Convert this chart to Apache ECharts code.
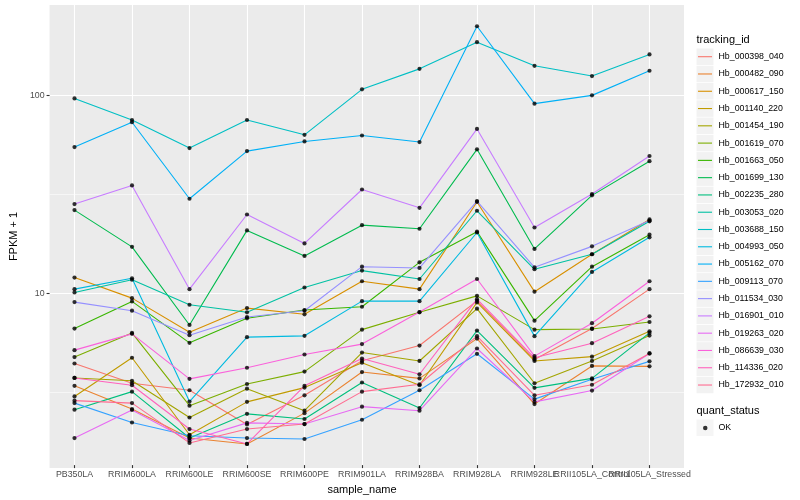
<!DOCTYPE html>
<html><head><meta charset="utf-8">
<script src="https://cdn.jsdelivr.net/npm/echarts@6/dist/echarts.min.js"></script>
<style>html,body{margin:0;padding:0;background:#fff}#c{width:800px;height:500px}</style>
</head><body><div id="c"></div>
<script>
const categories = ['PB350LA','RRIM600LA','RRIM600LE','RRIM600SE','RRIM600PE','RRIM901LA','RRIM928BA','RRIM928LA','RRIM928LE','RRII105LA_Control','RRII105LA_Stressed'];
const trackingIds = ['Hb_000398_040','Hb_000482_090','Hb_000617_150','Hb_001140_220','Hb_001454_190','Hb_001619_070','Hb_001663_050','Hb_001699_130','Hb_002235_280','Hb_003053_020','Hb_003688_150','Hb_004993_050','Hb_005162_070','Hb_009113_070','Hb_011534_030','Hb_016901_010','Hb_019263_020','Hb_086639_030','Hb_114336_020','Hb_172932_010'];
const colors = ['#F8766D','#EA8331','#D89000','#C09B00','#A3A500','#7CAE00','#39B600','#00BB4E','#00BF7D','#00C1A3','#00BFC4','#00BAE0','#00B0F6','#35A2FF','#9590FF','#C77CFF','#E76BF3','#FA62DB','#FF62BC','#FF6C91'];

const s01 = [4.31, 3.42, 3.15, 2.11, 2.97, 4.45, 5.32, 8.98, 4.52, 6.49, 10.3];
const s02 = [3.32, 2.53, 1.80, 1.68, 2.41, 3.90, 3.62, 5.77, 2.68, 4.19, 4.17];
const s03 = [11.8, 9.27, 6.22, 8.25, 7.67, 11.3, 10.3, 28.6, 10.0, 15.5, 23.3];
const s04 = [2.93, 4.61, 1.87, 2.75, 3.25, 4.35, 3.34, 8.82, 4.44, 4.67, 6.29];
const s05 = [3.64, 3.52, 2.29, 3.21, 2.48, 4.90, 4.44, 8.19, 3.42, 4.44, 5.98];
const s06 = [4.65, 6.17, 2.63, 3.39, 3.92, 6.41, 7.85, 9.52, 6.41, 6.46, 7.01];
const s07 = [6.49, 8.92, 5.49, 7.32, 8.06, 8.38, 14.1, 20.2, 7.12, 13.4, 19.5];
const s08 = [26.0, 16.9, 6.77, 20.5, 15.2, 21.8, 20.9, 53.0, 16.5, 30.9, 46.1];
const s09 = [2.51, 3.10, 1.80, 2.39, 2.25, 3.45, 2.56, 6.34, 3.24, 3.62, 6.17];
const s10 = [9.91, 11.5, 8.58, 7.85, 10.5, 12.8, 11.6, 25.8, 13.0, 15.5, 22.8];
const s11 = [96.2, 74.7, 53.8, 74.7, 62.8, 107, 136, 186, 141, 125, 161];
const s12 = [10.3, 11.7, 2.76, 5.87, 5.96, 8.95, 8.95, 20.0, 5.94, 12.6, 18.9];
const s13 = [54.4, 72.8, 29.7, 51.9, 58.1, 62.3, 57.7, 224, 90.5, 99.7, 133];
const s14 = [2.71, 2.16, 1.85, 1.80, 1.78, 2.23, 3.15, 4.83, 2.84, 3.58, 4.42];
const s15 = [8.85, 8.00, 6.00, 7.43, 8.00, 13.4, 13.2, 28.9, 13.3, 17.0, 23.0];
const s16 = [27.9, 34.7, 10.3, 24.7, 17.6, 33.1, 26.7, 67.3, 21.2, 31.4, 49.0];
const s17 = [1.80, 2.50, 1.75, 2.15, 2.12, 2.60, 2.48, 5.14, 2.75, 3.14, 4.85];
const s18 = [5.04, 6.10, 3.60, 4.10, 4.79, 5.41, 7.88, 11.6, 4.70, 6.91, 11.3];
const s19 = [3.64, 3.34, 2.00, 1.68, 3.32, 4.57, 3.80, 9.16, 4.61, 5.47, 7.49];
const s20 = [2.79, 2.71, 1.70, 2.00, 2.12, 3.10, 3.38, 5.94, 2.97, 3.36, 4.85];
const seriesValues = [s01,s02,s03,s04,s05,s06,s07,s08,s09,s10,s11,s12,s13,s14,s15,s16,s17,s18,s19,s20];

const yTickLabels = [10, 100];
const minorBreaks = [3.162, 31.62];
const quantStatus = 'OK';

const FONT = '"Liberation Sans", Arial, sans-serif';
const Y_MIN = 1.311, Y_MAX = 287.4;

const chart = echarts.init(document.getElementById('c'));

const lineSeries = trackingIds.map((id, i) => ({
  name: id, type: 'line', xAxisIndex: 1, yAxisIndex: 1,
  data: seriesValues[i], symbol: 'none', showSymbol: false,
  lineStyle: { color: colors[i], width: 1.1 },
  itemStyle: { color: colors[i] },
  emphasis: { disabled: true }, silent: true, z: 2
}));

const points = [];
seriesValues.forEach(arr => arr.forEach((v, j) => points.push([j, v])));

const isMajor = v => yTickLabels.some(t => Math.abs(v - t) / t < 1e-6);

const option = {
  animation: false,
  backgroundColor: '#ffffff',
  textStyle: { fontFamily: FONT },
  title: [
    { text: 'tracking_id', left: 696.5, top: 34.5, padding: 0,
      textStyle: { fontSize: 11, fontWeight: 'normal', color: '#000', fontFamily: FONT } },
    { text: 'quant_status', left: 696.5, top: 405.5, padding: 0,
      textStyle: { fontSize: 11, fontWeight: 'normal', color: '#000', fontFamily: FONT } }
  ],
  grid: [
    { left: 40, top: 5, width: 644, height: 463, show: true, backgroundColor: '#EBEBEB', borderWidth: 0, containLabel: false },
    { left: 74.5, top: 5, width: 575, height: 463, show: false, containLabel: false }
  ],
  xAxis: [
    { type: 'value', gridIndex: 0, min: 0, max: 1, show: false },
    { type: 'category', gridIndex: 1, data: categories, boundaryGap: false,
      axisLine: { show: false },
      axisTick: { show: true, length: 3, lineStyle: { color: '#333333', width: 1.1 } },
      axisLabel: { interval: 0, color: '#4D4D4D', fontSize: 8.8, margin: 5, fontFamily: FONT },
      splitLine: { show: true, lineStyle: { color: '#FFFFFF', width: 1.1 } },
      name: 'sample_name', nameLocation: 'middle', nameGap: 14.5,
      nameTextStyle: { color: '#000', fontSize: 11, fontFamily: FONT } }
  ],
  yAxis: [
    { type: 'log', logBase: 10, gridIndex: 0, min: Y_MIN, max: Y_MAX,
      axisLine: { show: false },
      axisTick: { show: true, length: 3, lineStyle: { color: '#333333', width: 1.1 } },
      axisLabel: { color: '#4D4D4D', fontSize: 8.8, margin: 5, fontFamily: FONT,
        showMinLabel: false, showMaxLabel: false,
        formatter: v => isMajor(v) ? String(Math.round(v)) : '' },
      splitLine: { show: true, showMinLine: false, showMaxLine: false, lineStyle: { color: '#FFFFFF', width: 1.1 } },
      name: 'FPKM + 1', nameLocation: 'middle', nameGap: 22, nameRotate: 90,
      nameTextStyle: { color: '#000', fontSize: 11, fontFamily: FONT } },
    { type: 'log', logBase: 10, gridIndex: 1, min: Y_MIN, max: Y_MAX, show: false,
      splitLine: { show: false }, axisLabel: { show: false }, axisTick: { show: false } }
  ],
  legend: [
    { orient: 'vertical', left: 696.5, top: 48.45, padding: 0, z: 4,
      itemWidth: 17, itemHeight: 16.5, itemGap: 0.78, icon: 'rect', selectedMode: false,
      itemStyle: { color: '#F2F2F2', borderWidth: 0 },
      textStyle: { fontSize: 8.8, lineHeight: 16.5, color: '#000', fontFamily: FONT },
      data: trackingIds },
    { orient: 'vertical', left: 698, top: 48.45, padding: 0, z: 5,
      itemWidth: 14, itemHeight: 16.5, itemGap: 0.78, icon: 'path://M0,0h14v1.1h-14z', selectedMode: false,
      itemStyle: { borderWidth: 0 },
      textStyle: { fontSize: 8.8, lineHeight: 16.5, color: 'rgba(0,0,0,0)', fontFamily: FONT },
      data: trackingIds },
    { orient: 'vertical', left: 696.5, top: 419.5, padding: 0, z: 4,
      itemWidth: 17, itemHeight: 16.5, icon: 'rect', selectedMode: false,
      itemStyle: { color: '#F2F2F2', borderWidth: 0 },
      textStyle: { fontSize: 8.8, lineHeight: 16.5, color: '#000', fontFamily: FONT },
      data: [quantStatus] },
    { orient: 'vertical', left: 703, top: 425.75, padding: 0, z: 5,
      itemWidth: 4.5, itemHeight: 4.5, icon: 'circle', selectedMode: false,
      itemStyle: { color: '#000', borderWidth: 0 },
      formatter: () => '',
      textStyle: { fontSize: 1, color: 'rgba(0,0,0,0)' },
      data: [quantStatus] }
  ],
  series: [
    { type: 'line', name: 'minor-grid', xAxisIndex: 0, yAxisIndex: 0, data: [], silent: true, z: 1,
      markLine: { silent: true, symbol: ['none', 'none'], z: 1, animation: false,
        label: { show: false }, emphasis: { disabled: true },
        lineStyle: { color: '#FFFFFF', width: 0.55, type: 'solid' },
        data: minorBreaks.map(b => ({ yAxis: b })) } },
    ...lineSeries,
    { name: quantStatus, type: 'scatter', xAxisIndex: 1, yAxisIndex: 1, data: points,
      symbol: 'circle', symbolSize: 4.2, itemStyle: { color: '#000000' },
      silent: true, z: 3, emphasis: { disabled: true } }
  ]
};
chart.setOption(option);
</script>
</body></html>
